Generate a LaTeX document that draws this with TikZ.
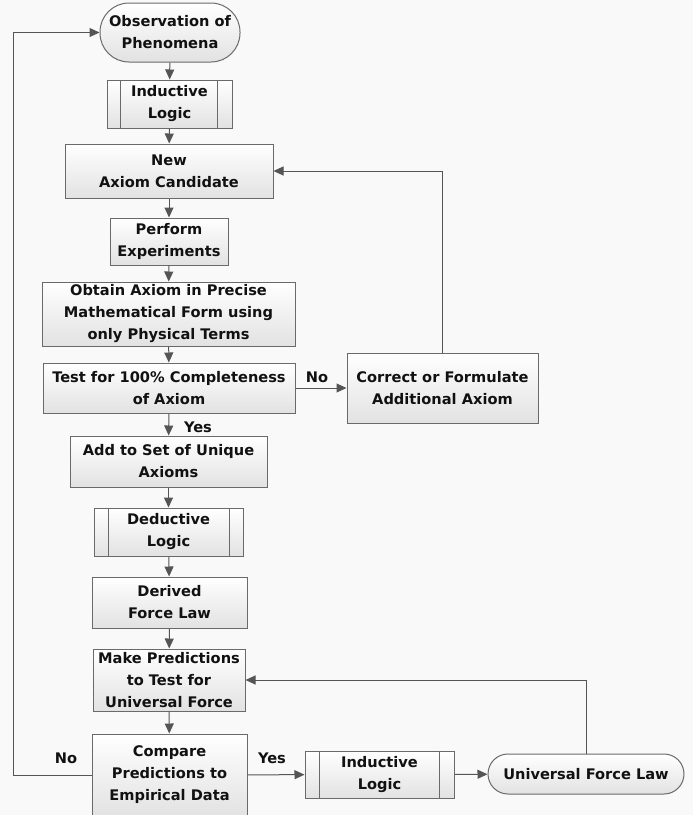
\documentclass[tikz,border=0pt]{standalone}
\usepackage{fontspec}
\setmainfont{DejaVu Sans}
\usetikzlibrary{arrows.meta}
\definecolor{bg}{HTML}{F9F9F9}
\definecolor{edge}{HTML}{6A6A6A}
\definecolor{ln}{HTML}{555555}
\definecolor{txt}{HTML}{111111}
\definecolor{boxbot}{HTML}{E2E2E2}
\tikzset{
  box/.style={draw=edge, line width=1pt, top color=white, bottom color=boxbot,
    align=center, inner sep=0pt, text=txt,
    font=\fontsize{14.6}{22}\selectfont\bfseries},
  term/.style={box, rounded corners=#1},
  arr/.style={draw=ln, line width=1pt, -{Triangle[length=10pt,width=9pt]}},
  inner/.style={draw=edge, line width=1pt},
  lbl/.style={text=txt, inner sep=0pt, font=\fontsize{14.6}{22}\selectfont\bfseries},
}
\begin{document}
\begin{tikzpicture}[x=1pt,y=-1pt]
\fill[bg] (0,0) rectangle (693,815);
\useasboundingbox (0,0) rectangle (693,815);

\node[term=29pt, minimum width=140pt, minimum height=59pt] (obs) at (170,32.5) {Observation of\\Phenomena};
\node[box, minimum width=125pt, minimum height=48pt] (ind1) at (169.5,104) {Inductive\\Logic};
\node[box, minimum width=208pt, minimum height=54pt] (newax) at (169,171) {New\\Axiom Candidate};
\node[box, minimum width=118pt, minimum height=47pt] (perf) at (169,241.5) {Perform\\Experiments};
\node[box, minimum width=253pt, minimum height=64pt] (obtain) at (168.5,314) {Obtain Axiom in Precise\\Mathematical Form using\\only Physical Terms};
\node[box, minimum width=252pt, minimum height=50pt] (test) at (169,388) {Test for 100\% Completeness\\of Axiom};
\node[box, minimum width=191pt, minimum height=70pt] (correct) at (442.5,388) {Correct or Formulate\\Additional Axiom};
\node[box, minimum width=197pt, minimum height=51pt] (addset) at (168.5,461.5) {Add to Set of Unique\\Axioms};
\node[box, minimum width=149pt, minimum height=48pt] (ded) at (168.5,532) {Deductive\\Logic};
\node[box, minimum width=155pt, minimum height=51pt] (derived) at (169.5,602.5) {Derived\\Force Law};
\node[box, minimum width=152pt, minimum height=62pt] (make) at (169,680) {Make Predictions\\to Test for\\Universal Force};
\node[box, minimum width=155pt, minimum height=82pt] (compare) at (169.5,775) {Compare\\Predictions to\\Empirical Data};
\node[box, minimum width=149pt, minimum height=47pt] (ind2) at (379.5,774.5) {Inductive\\Logic};
\node[term=20pt, minimum width=196pt, minimum height=40pt] (ufl) at (586,774) {Universal Force Law};

% predefined-process inner lines
\draw[inner] ([xshift=14pt]ind1.north west) -- ([xshift=14pt]ind1.south west);
\draw[inner] ([xshift=-15pt]ind1.north east) -- ([xshift=-15pt]ind1.south east);
\draw[inner] ([xshift=15pt]ded.north west) -- ([xshift=15pt]ded.south west);
\draw[inner] ([xshift=-14pt]ded.north east) -- ([xshift=-14pt]ded.south east);
\draw[inner] ([xshift=15pt]ind2.north west) -- ([xshift=15pt]ind2.south west);
\draw[inner] ([xshift=-15pt]ind2.north east) -- ([xshift=-15pt]ind2.south east);

% main column
\draw[arr] (obs) -- (ind1);
\draw[arr] (ind1) -- (newax);
\draw[arr] (newax) -- (perf);
\draw[arr] (perf) -- (obtain);
\draw[arr] (obtain) -- (test);
\draw[arr] (test) -- (addset);
\draw[arr] (addset) -- (ded);
\draw[arr] (ded) -- (derived);
\draw[arr] (derived) -- (make);
\draw[arr] (make) -- (compare);

% side branches
\draw[arr] (test) -- (correct);
\draw[arr] (correct.north) |- (newax.east);
\coordinate (lft) at (13,775);
\draw[arr] (compare.west) -- (lft) |- (obs.west);
\draw[arr] (compare) -- (ind2);
\draw[arr] (ind2) -- (ufl);
\draw[arr] (ufl.north) |- (make.east);

% labels
\node[lbl] (lyes1) at (198,427) {Yes};
\node[lbl] (lno1) at (317,377) {No};
\node[lbl] (lno2) at (66,758) {No};
\node[lbl] (lyes2) at (272,758) {Yes};
\end{tikzpicture}
\end{document}
